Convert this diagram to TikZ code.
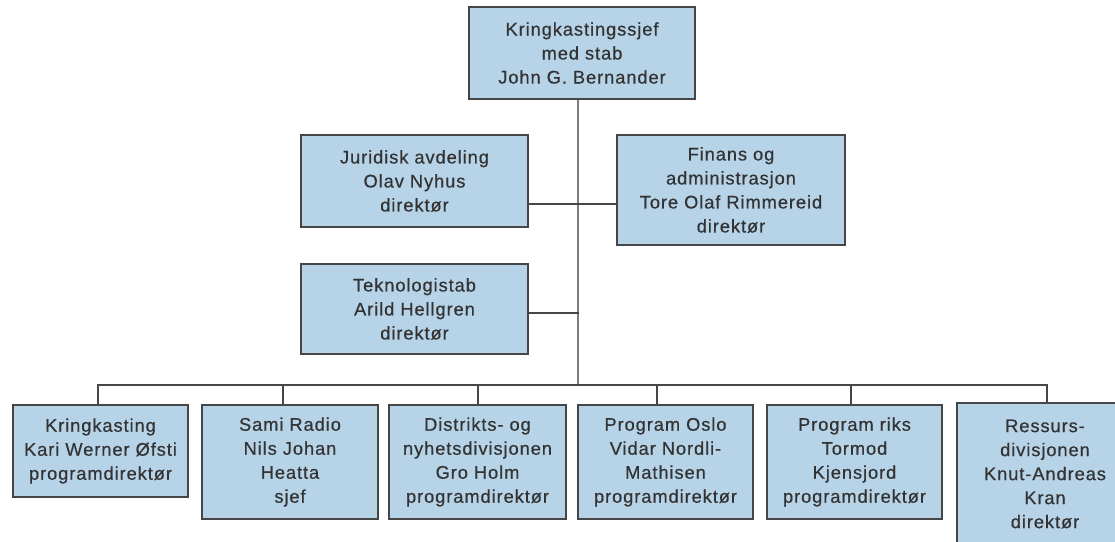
\documentclass[tikz,border=0pt]{standalone}
\usepackage{fontspec}
\setmainfont[LetterSpace=5,FakeBold=0.5]{Liberation Sans}
\definecolor{boxfill}{HTML}{B6D3E8}
\definecolor{boxline}{HTML}{464646}
\definecolor{txt}{HTML}{333333}
\definecolor{trunkcol}{HTML}{7C7C7C}
\tikzset{
  orgbox/.style={draw=boxline, fill=boxfill, line width=1.8pt, inner sep=0pt,
    align=center, text=txt, font=\fontsize{18.3}{24}\selectfont},
  link/.style={draw=boxline, line width=2pt, line cap=rect},
  trunk/.style={draw=trunkcol, line width=2pt}
}
\begin{document}
\begin{tikzpicture}[x=1pt,y=-1pt]
\useasboundingbox (0,0) rectangle (1115,541);
\node[orgbox, minimum width=226pt, minimum height=92pt] (top) at (582,53)
  {Kringkastingssjef\\med stab\\John G. Bernander};
\node[orgbox, minimum width=227pt, minimum height=92pt] (jur) at (414.5,181)
  {Juridisk avdeling\\Olav Nyhus\\direktør};
\node[orgbox, minimum width=228pt, minimum height=110pt] (fin) at (731,190)
  {Finans og\\administrasjon\\Tore Olaf Rimmereid\\direktør};
\node[orgbox, minimum width=227pt, minimum height=90pt] (tek) at (414.5,309)
  {Teknologistab\\Arild Hellgren\\direktør};
\node[orgbox, minimum width=175pt, minimum height=92pt] (k1) at (100.5,451)
  {Kringkasting\\Kari Werner Øfsti\\programdirektør};
\node[orgbox, minimum width=176pt, minimum height=114pt] (k2) at (290,462)
  {Sami Radio\\Nils Johan\\Heatta\\sjef};
\node[orgbox, minimum width=177pt, minimum height=114pt] (k3) at (477.5,462)
  {Distrikts- og\\nyhetsdivisjonen\\Gro Holm\\programdirektør};
\node[orgbox, minimum width=175pt, minimum height=114pt] (k4) at (665.5,462)
  {Program Oslo\\Vidar Nordli-\\Mathisen\\programdirektør};
\node[orgbox, minimum width=175pt, minimum height=114pt] (k5) at (854.5,462)
  {Program riks\\Tormod\\Kjensjord\\programdirektør};
\node[orgbox, minimum width=176pt, minimum height=142pt] (k6) at (1045,474)
  {Ressurs-\\divisjonen\\Knut-Andreas\\Kran\\direktør};
\coordinate (busM) at (578,385);
\coordinate (busL) at (98,385);
\coordinate (busR) at (1047,385);
\coordinate (jf) at (578,204);
\coordinate (tj) at (578,313);
\draw[trunk] (busM |- top.south) -- (busM);
\draw[link] (jur.east |- jf) -- (fin.west |- jf);
\draw[link] (tek.east |- tj) -- (tj);
\draw[link] (busL) -- (busR);
\foreach \n/\x in {k1/98,k2/283,k3/478,k4/657,k5/851,k6/1047}{
  \coordinate (d\n) at (\x,385);
  \draw[link] (d\n) -- (d\n |- \n.north);
}
\end{tikzpicture}
\end{document}
